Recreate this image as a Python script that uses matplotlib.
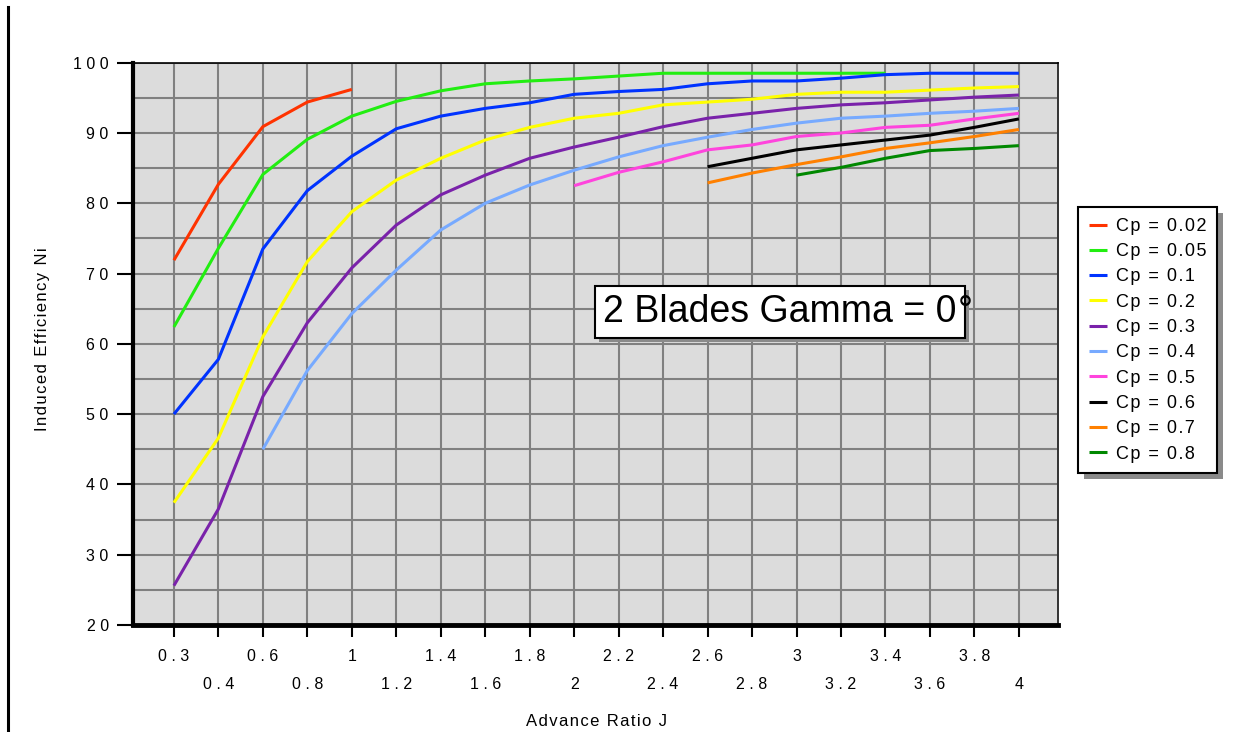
import numpy as np
import matplotlib
matplotlib.use("Agg")
import matplotlib.pyplot as plt
from matplotlib.lines import Line2D
from matplotlib.patches import Rectangle

plt.rcParams["font.family"] = ["Liberation Sans", "DejaVu Sans"]

nan = np.nan

# advance ratio J (plotted as evenly spaced categories)
j_labels = ["0.3", "0.4", "0.6", "0.8", "1", "1.2", "1.4", "1.6", "1.8", "2",
            "2.2", "2.4", "2.6", "2.8", "3", "3.2", "3.4", "3.6", "3.8", "4"]

# induced efficiency Ni for each power coefficient
cp_002 = [71.9, 82.7, 90.9, 94.4, 96.2] + [nan] * 15
cp_005 = [62.4, 73.6, 84.1, 89.1, 92.4, 94.5, 96.0, 97.0, 97.4, 97.7,
          98.1, 98.5, 98.5, 98.5, 98.5, 98.5, 98.5, nan, nan, nan]
cp_01 = [50.0, 57.8, 73.5, 81.8, 86.7, 90.6, 92.4, 93.5, 94.3, 95.5,
         95.9, 96.2, 97.0, 97.4, 97.4, 97.8, 98.3, 98.5, 98.5, 98.5]
cp_02 = [37.4, 46.6, 61.0, 71.7, 78.8, 83.3, 86.4, 89.0, 90.8, 92.1,
         92.8, 94.0, 94.4, 94.8, 95.5, 95.8, 95.8, 96.1, 96.4, 96.6]
cp_03 = [25.6, 36.5, 52.5, 63.0, 70.8, 76.9, 81.2, 84.0, 86.4, 88.0,
         89.4, 90.9, 92.1, 92.8, 93.5, 94.0, 94.3, 94.7, 95.1, 95.4]
cp_04 = [nan, nan, 45.0, 56.2, 64.3, 70.5, 76.2, 80.0, 82.6, 84.7,
         86.6, 88.2, 89.4, 90.5, 91.4, 92.1, 92.4, 92.8, 93.1, 93.5]
cp_05 = [nan] * 9 + [82.5, 84.4, 85.9, 87.6, 88.3, 89.5, 90.0, 90.8, 91.1, 92.0, 92.8]
cp_06 = [nan] * 12 + [85.2, 86.4, 87.6, 88.3, 89.0, 89.7, 90.8, 92.0]
cp_07 = [nan] * 12 + [82.9, 84.3, 85.5, 86.6, 87.8, 88.6, 89.5, 90.5]
cp_08 = [nan] * 14 + [84.0, 85.1, 86.4, 87.5, 87.8, 88.2]

series = [cp_002, cp_005, cp_01, cp_02, cp_03, cp_04, cp_05, cp_06, cp_07, cp_08]
names = ["Cp = 0.02", "Cp = 0.05", "Cp = 0.1", "Cp = 0.2", "Cp = 0.3",
         "Cp = 0.4", "Cp = 0.5", "Cp = 0.6", "Cp = 0.7", "Cp = 0.8"]
colors = ["#ff3300", "#22ee11", "#0033ff", "#ffff00", "#7a22aa",
          "#77aaff", "#ff44dd", "#000000", "#ff8000", "#008800"]

y_ticks = [20, 30, 40, 50, 60, 70, 80, 90, 100]


def spaced(s, sep="\u200a"):
    return sep.join(s)


W, H = 1244, 732
fig = plt.figure(figsize=(W / 100, H / 100), dpi=100)
ax = fig.add_axes([133 / W, 1 - 625 / H, 925 / W, (625 - 62.7) / H])
ax.set_facecolor("#dcdcdc")

x = np.arange(len(j_labels))
for vals, name, c in zip(series, names, colors):
    ax.plot(x, vals, color=c, lw=2.2, label=name, solid_capstyle="butt")

ax.set_xlim(-0.92, len(j_labels) - 1 + 0.88)
ax.set_ylim(20, 100)

# staggered category labels: even positions on the upper row, odd below
ax.set_xticks(x[::2])
ax.set_xticklabels([" ".join(s) for s in j_labels[::2]])
ax.set_xticks(x[1::2], minor=True)
ax.set_xticklabels([" ".join(s) for s in j_labels[1::2]], minor=True)
ax.tick_params(axis="x", which="both", direction="out", length=8.6, width=1.5,
               labelsize=11.5)
ax.tick_params(axis="x", which="major", pad=8.5)
ax.tick_params(axis="x", which="minor", pad=28.5)

ax.set_yticks(y_ticks)
ax.set_yticklabels([" ".join(str(v)) for v in y_ticks])
ax.set_yticks(np.arange(25, 100, 10), minor=True)
ax.tick_params(axis="y", which="major", direction="out", length=11.5, width=1.5,
               pad=6, labelsize=11.5)
ax.tick_params(axis="y", which="minor", length=0)

ax.grid(True, which="both", color="#808080", lw=1.5)
ax.set_axisbelow(True)

ax.spines["left"].set_linewidth(3)
ax.spines["bottom"].set_linewidth(3.5)
ax.spines["top"].set_linewidth(1.2)
ax.spines["right"].set_linewidth(1.4)
ax.spines["right"].set_color("#333333")

fig.text(43 / W, 1 - 339 / H, spaced("Induced Efficiency Ni"), rotation=90,
         ha="center", va="center", fontsize=12)
fig.text(597 / W, 1 - 721 / H, spaced("Advance Ratio J"),
         ha="center", va="center", fontsize=12)

# thin frame line on the left edge of the page
fig.add_artist(Line2D([8 / W, 8 / W], [0, 1 - 7 / H], transform=fig.transFigure,
                      color="black", lw=2.2))

handles, labels = ax.get_legend_handles_labels()
leg = fig.legend(handles, [spaced(l) for l in labels], loc="upper left",
                 bbox_to_anchor=(1078 / W, 1 - 207 / H), borderaxespad=0,
                 fontsize=13, handlelength=1.0, handletextpad=0.5,
                 labelspacing=0.46, borderpad=0.6, fancybox=False,
                 framealpha=1, edgecolor="black")
leg.get_frame().set_linewidth(1.5)
leg.set_zorder(10)

title = fig.text(603 / W, 1 - 312 / H, "2 Blades Gamma = 0", fontsize=27,
                 ha="left", va="center", zorder=10,
                 bbox=dict(boxstyle="square,pad=0.22", fc="white", ec="black", lw=1.5))

fig.canvas.draw()
r = fig.canvas.get_renderer()

# drop shadows behind the legend and the title box
for bb, off in [(leg.get_window_extent(r), 6), (title.get_bbox_patch().get_window_extent(r), 4)]:
    fig.add_artist(Rectangle((bb.x0 + off, bb.y0 - off), bb.width, bb.height,
                             transform=None, fc="#8a8a8a", ec="none", zorder=9))

tb = title.get_window_extent(r)
fig.text((tb.x1 + 1) / W, 1 - 312 / H, "\u00b0", fontsize=27, ha="left",
         va="center", zorder=11)

fig.savefig("out.png", dpi=100)
